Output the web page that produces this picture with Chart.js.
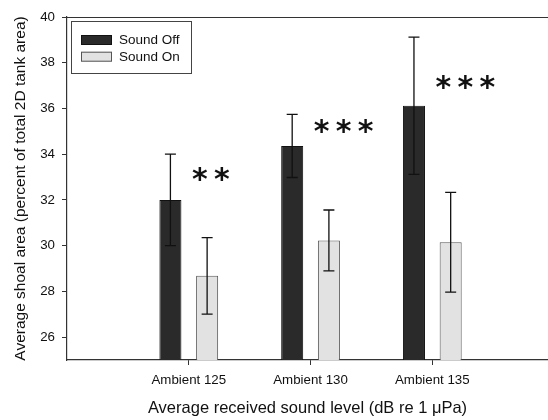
<!DOCTYPE html>
<html>
<head>
<meta charset="utf-8">
<script src="https://cdn.jsdelivr.net/npm/chart.js@4.4.1/dist/chart.umd.min.js"></script>
<style>
  html, body { margin: 0; padding: 0; background: #fff; overflow: hidden; }
  canvas { display: block; }
</style>
</head>
<body>
<canvas id="shoalChart" width="548" height="420"></canvas>
<script>
const categories = ['Ambient 125', 'Ambient 130', 'Ambient 135'];
const soundOff = [32.0, 34.36, 36.12];
const soundOffErr = [2.0, 1.38, 3.0];
const soundOn = [28.68, 30.23, 30.15];
const soundOnErr = [1.67, 1.33, 2.18];
const yTicks = [26, 28, 30, 32, 34, 36, 38, 40];
const stars = ['**', '***', '***'];
const starLevel = [33.1, 35.2, 37.15];

const FONT = 'Liberation Sans, Arial, sans-serif';
const points = vals => vals.map((v, i) => ({ x: i + 1, y: v }));

const errorBars = {
    id: 'errorBars',
    afterDatasetsDraw(chart) {
        const { ctx, scales: { y } } = chart;
        const errs = [soundOffErr, soundOnErr];
        ctx.save();
        ctx.strokeStyle = '#111';
        ctx.lineWidth = 1.3;
        chart.data.datasets.forEach((ds, di) => {
            chart.getDatasetMeta(di).data.forEach((bar, i) => {
                const v = ds.data[i].y;
                const e = errs[di][i];
                const top = y.getPixelForValue(v + e);
                const bot = y.getPixelForValue(v - e);
                ctx.beginPath();
                ctx.moveTo(bar.x, top); ctx.lineTo(bar.x, bot);
                ctx.moveTo(bar.x - 5.5, top); ctx.lineTo(bar.x + 5.5, top);
                ctx.moveTo(bar.x - 5.5, bot); ctx.lineTo(bar.x + 5.5, bot);
                ctx.stroke();
            });
        });

        // significance asterisks
        const x = chart.scales.x;
        const step = x.getPixelForValue(2) - x.getPixelForValue(1);
        ctx.fillStyle = '#111';
        ctx.font = 'bold 30px DejaVu Sans';
        ctx.textAlign = 'center';
        ctx.textBaseline = 'alphabetic';
        stars.forEach((s, i) => {
            const m = ctx.measureText('*');
            const cy = y.getPixelForValue(starLevel[i]);
            const base = cy + (m.actualBoundingBoxAscent - m.actualBoundingBoxDescent) / 2;
            const x0 = x.getPixelForValue(i + 1) + step * 0.09;
            for (let k = 0; k < s.length; k++) {
                ctx.fillText('*', x0 + k * 22, base);
            }
        });
        ctx.restore();
    }
};

const frameAndLegend = {
    id: 'frameAndLegend',
    afterDraw(chart) {
        const { ctx, chartArea: a } = chart;
        ctx.save();
        ctx.strokeStyle = '#333';
        ctx.lineWidth = 1.2;
        ctx.beginPath();
        ctx.moveTo(a.left, a.top + 0.5);
        ctx.lineTo(a.right, a.top + 0.5);
        ctx.stroke();

        // legend box
        ctx.lineWidth = 1;
        ctx.strokeStyle = '#444';
        ctx.strokeRect(71.5, 21.5, 120, 52);
        ctx.font = '13.5px ' + FONT;
        ctx.textBaseline = 'middle';
        ctx.textAlign = 'left';
        chart.data.datasets.forEach((ds, i) => {
            const yy = 35 + i * 16.7;
            ctx.fillStyle = ds.backgroundColor;
            ctx.fillRect(81, yy, 31, 10);
            ctx.strokeStyle = ds.borderColor;
            ctx.strokeRect(81.5, yy + 0.5, 30, 9);
            ctx.fillStyle = '#111';
            ctx.fillText(ds.label, 119, yy + 5.5);
        });
        ctx.restore();
    }
};

new Chart(document.getElementById('shoalChart'), {
    type: 'bar',
    data: {
        datasets: [
            {
                label: 'Sound Off',
                data: points(soundOff),
                backgroundColor: '#2a2a2a',
                borderColor: '#111',
                borderWidth: 1,
                borderSkipped: false,
                categoryPercentage: 0.603,
                barPercentage: 0.6
            },
            {
                label: 'Sound On',
                data: points(soundOn),
                backgroundColor: '#e2e2e2',
                borderColor: '#555',
                borderWidth: 1,
                borderSkipped: false,
                categoryPercentage: 0.603,
                barPercentage: 0.6
            }
        ]
    },
    options: {
        responsive: false,
        animation: false,
        layout: { padding: { top: 17, right: 0, left: 0, bottom: 0 } },
        plugins: {
            legend: { display: false },
            tooltip: { enabled: false }
        },
        scales: {
            x: {
                type: 'linear',
                min: 0,
                max: 3.95,
                offset: false,
                afterBuildTicks: s => { s.ticks = categories.map((c, i) => ({ value: i + 1 })); },
                grid: {
                    offset: false,
                    drawOnChartArea: false,
                    tickLength: 5,
                    tickColor: '#333'
                },
                border: { color: '#333', width: 1.2 },
                ticks: {
                    color: '#111',
                    padding: 7,
                    maxRotation: 0,
                    autoSkip: false,
                    callback: v => categories[v - 1],
                    font: { size: 13.3, family: FONT }
                },
                title: {
                    display: true,
                    text: 'Average received sound level (dB re 1 μPa)',
                    color: '#111',
                    padding: { bottom: 2, top: 0 },
                    font: { size: 16.5, family: FONT }
                },
                afterFit: s => { s.height = 60; }
            },
            y: {
                min: 25,
                max: 40,
                afterBuildTicks: s => { s.ticks = yTicks.map(v => ({ value: v })); },
                grid: {
                    drawOnChartArea: false,
                    tickLength: 5,
                    tickColor: '#333'
                },
                border: { color: '#333', width: 1.2 },
                ticks: {
                    color: '#111',
                    padding: 7,
                    font: { size: 13.3, family: FONT }
                },
                title: {
                    display: true,
                    text: 'Average shoal area (percent of total 2D tank area)',
                    color: '#111',
                    padding: { top: 11, bottom: 0 },
                    font: { size: 15.5, family: FONT }
                },
                afterFit: s => { s.width = 67; }
            }
        }
    },
    plugins: [errorBars, frameAndLegend]
});
</script>
</body>
</html>
